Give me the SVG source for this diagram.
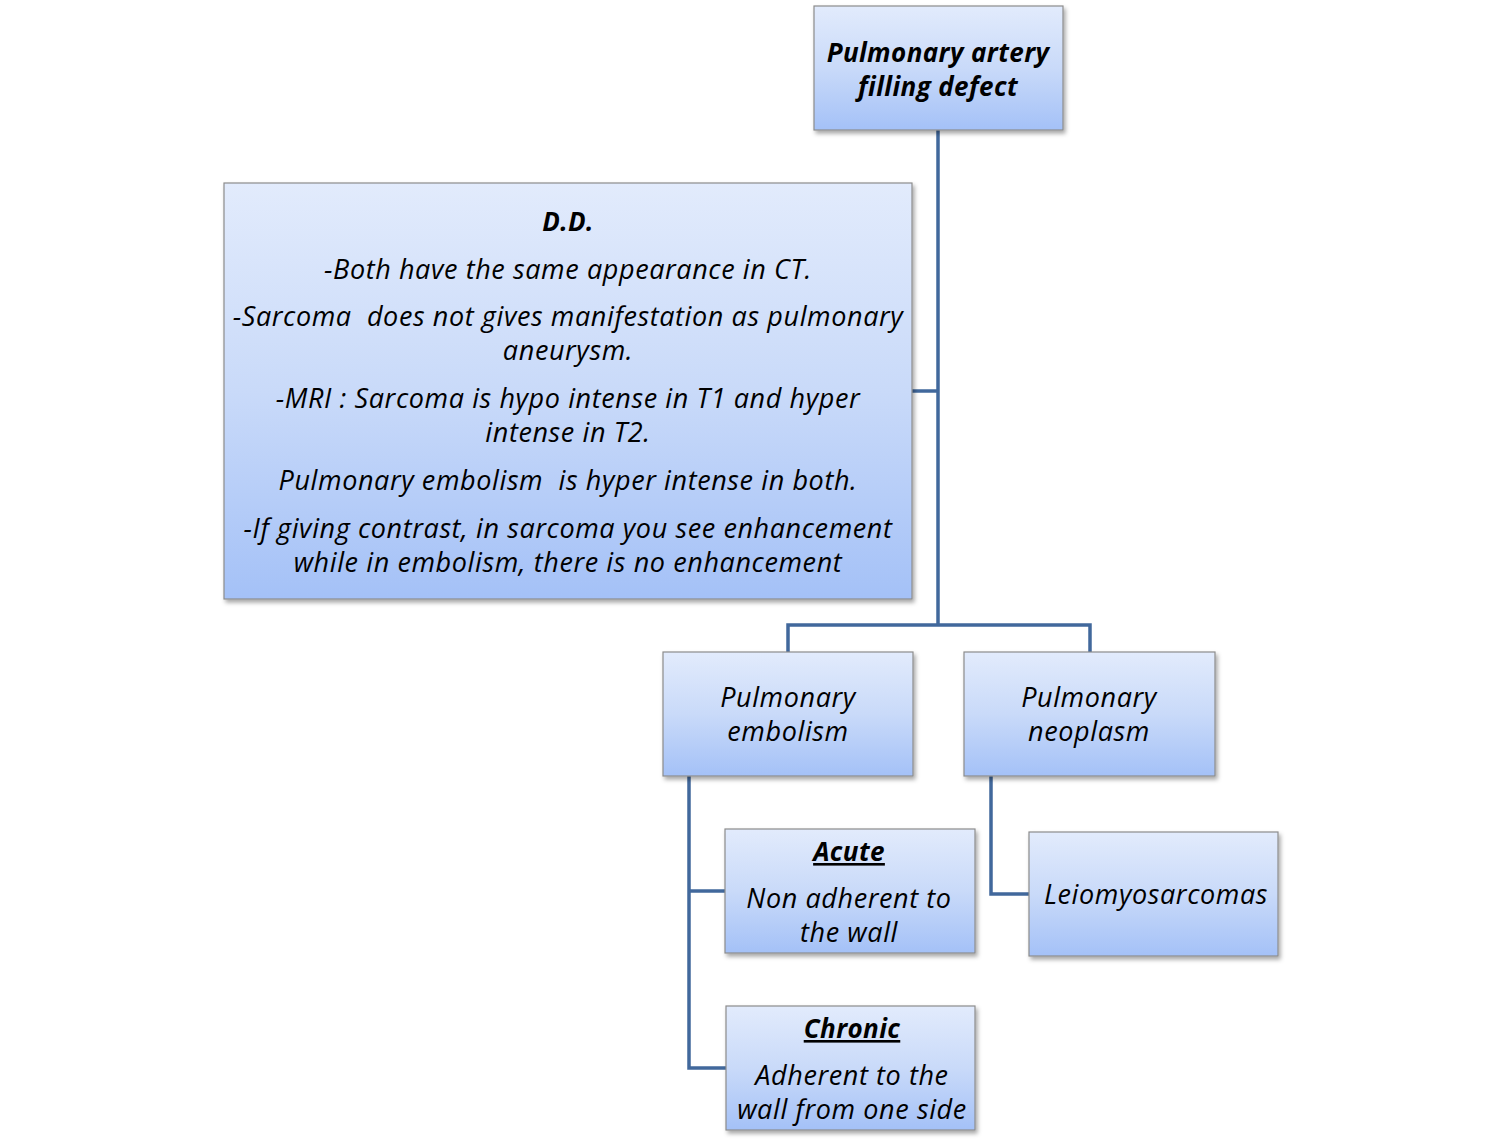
<svg xmlns="http://www.w3.org/2000/svg" width="1502" height="1143" viewBox="0 0 1502 1143">
<defs>
<linearGradient id="g" x1="0" y1="0" x2="0" y2="1">
<stop offset="0" stop-color="#e2ebfc"/>
<stop offset="0.5" stop-color="#c9daf9"/>
<stop offset="1" stop-color="#a4c1f7"/>
</linearGradient>
<filter id="sh" x="-10%" y="-10%" width="120%" height="130%">
<feDropShadow dx="2" dy="3" stdDeviation="2" flood-color="#000" flood-opacity="0.35"/>
</filter>
</defs>
<style>
.box{fill:url(#g);stroke:#8c8c8c;stroke-width:1.2;filter:url(#sh)}
.t{font-family:"Open Sans","Noto Sans",sans-serif;font-style:italic;font-size:27px;letter-spacing:0.6px;fill:#000;text-anchor:middle;white-space:pre}
.b{font-weight:bold;font-size:26px;letter-spacing:0.4px}
.u{text-decoration:underline}
.c{fill:none;stroke:#41689c;stroke-width:3.5}
</style>
<rect width="1502" height="1143" fill="#fff"/>
<g id="connectors">
<polyline class="c" points="938,130 938,625"/>
<polyline class="c" points="912,391 938,391"/>
<polyline class="c" points="788,652 788,625 1090,625 1090,652"/>
<polyline class="c" points="689,776 689,1068 726,1068"/>
<polyline class="c" points="689,891 725,891"/>
<polyline class="c" points="991,776 991,894 1029,894"/>
</g>
<g id="n-top">
<rect class="box" x="814" y="6" width="249" height="124"/>
<text class="t b" x="938" y="62">Pulmonary artery</text>
<text class="t b" x="938" y="96">filling defect</text>
</g>
<g id="n-dd">
<rect class="box" x="224" y="183" width="688" height="416"/>
<text class="t b" x="568" y="231">D.D.</text>
<text class="t" x="568" y="279">-Both have the same appearance in CT.</text>
<text class="t" x="568" y="326" xml:space="preserve">-Sarcoma  does not gives manifestation as pulmonary</text>
<text class="t" x="568" y="360">aneurysm.</text>
<text class="t" x="568" y="408">-MRI : Sarcoma is hypo intense in T1 and hyper</text>
<text class="t" x="568" y="442">intense in T2.</text>
<text class="t" x="568" y="490" xml:space="preserve">Pulmonary embolism  is hyper intense in both.</text>
<text class="t" x="568" y="538">-If giving contrast, in sarcoma you see enhancement</text>
<text class="t" x="568" y="572">while in embolism, there is no enhancement</text>
</g>
<g id="n-embolism">
<rect class="box" x="663" y="652" width="250" height="124"/>
<text class="t" x="788" y="707">Pulmonary</text>
<text class="t" x="788" y="741">embolism</text>
</g>
<g id="n-neoplasm">
<rect class="box" x="964" y="652" width="251" height="124"/>
<text class="t" x="1089" y="707">Pulmonary</text>
<text class="t" x="1089" y="741">neoplasm</text>
</g>
<g id="n-acute">
<rect class="box" x="725" y="829" width="250" height="124"/>
<text class="t b u" x="849" y="861">Acute</text>
<text class="t" x="849" y="908">Non adherent to</text>
<text class="t" x="849" y="942">the wall</text>
</g>
<g id="n-leio">
<rect class="box" x="1029" y="832" width="249" height="124"/>
<text class="t" x="1156" y="904">Leiomyosarcomas</text>
</g>
<g id="n-chronic">
<rect class="box" x="726" y="1006" width="249" height="124"/>
<text class="t b u" x="852" y="1038">Chronic</text>
<text class="t" x="852" y="1085">Adherent to the</text>
<text class="t" x="852" y="1119">wall from one side</text>
</g>
</svg>
